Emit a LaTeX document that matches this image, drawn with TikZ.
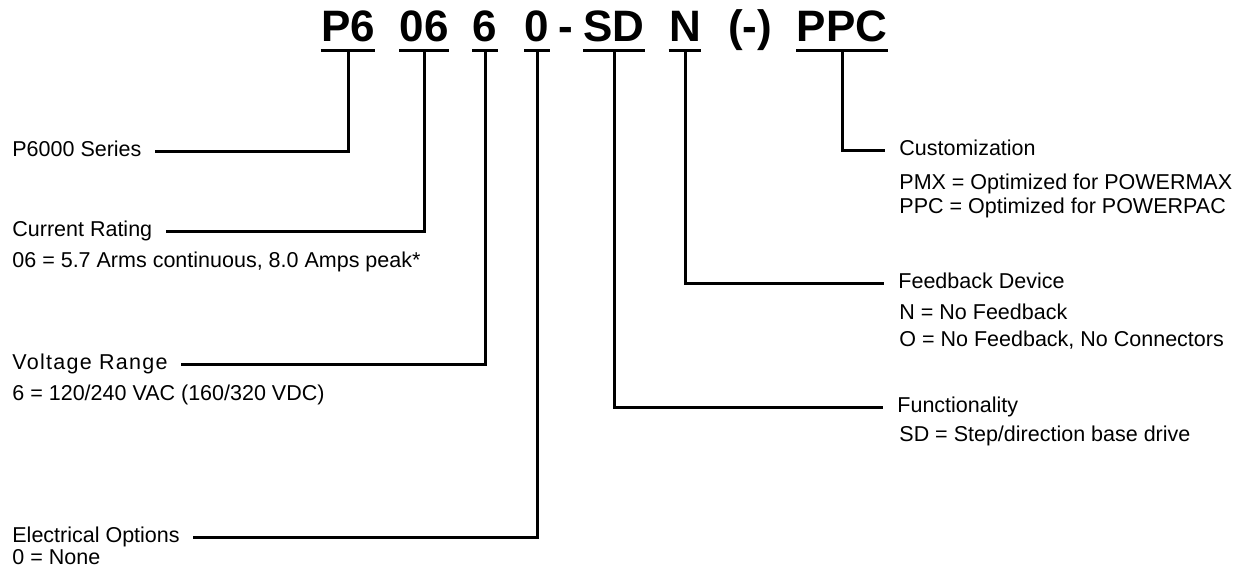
\documentclass[tikz,border=0pt]{standalone}
\usepackage{fontspec}
\setmainfont{Liberation Sans}
\newfontfamily\spacedfont[LetterSpace=6]{Liberation Sans}
\usetikzlibrary{positioning}
\tikzset{%
  link/.style={line width=1.5pt},
  code/.style={font=\fontsize{22}{22}\selectfont\bfseries, inner xsep=0pt, inner ysep=4pt, text depth=0pt, anchor=base},
  field/.style={font=\fontsize{10.75}{13}\selectfont, inner xsep=6.5pt, inner ysep=0pt, anchor=mid west},
  rfield/.style={field, inner xsep=7pt},
  value/.style={font=\fontsize{10.75}{13}\selectfont, inner sep=0pt, anchor=base west}
}
\begin{document}
\begin{tikzpicture}[x=0.5pt, y=-0.5pt]
 \useasboundingbox (0,0) rectangle (1251,567);

 % part number
 \node[code] (p6) at (348,42) {P6};
 \node[code] (cur) at (424,42) {06};
 \node[code] (volt) at (485,42) {6};
 \node[code] (elec) at (537,42) {0};
 \node[code] (dash) at (566,42) {-};
 \node[code] (func) at (614,42) {SD};
 \node[code] (fb) at (685,42) {N};
 \node[code] (opt) at (750,42) {(-)};
 \node[code] (cust) at (842,42) {PPC};

 \foreach \n in {p6,cur,volt,elec,func,fb,cust}
   \draw[link] (\n.south west) -- (\n.south east);

 % left fields
 \node[field] (series) at (-1,151) {P6000 Series};
 \node[field] (rating) at (-1,231) {Current Rating};
 \node[value] (ratingv) at (12,267) {06 = 5.7 Arms continuous, 8.0 Amps peak*};
 \node[field, font=\fontsize{10.75}{13}\spacedfont] (range) at (-1,364) {Voltage Range};
 \node[value] (rangev) at (12,400) {6 = 120/240 VAC (160/320 VDC)};
 \node[field] (option) at (-1,537) {Electrical Options};
 \node[value] (optionv) at (12,564) {0 = None};

 % right fields
 \node[rfield] (custom) at (885,150) {Customization};
 \node[value] (customv1) at (899,189) {PMX = Optimized for POWERMAX};
 \node[value] (customv2) at (899,213) {PPC = Optimized for POWERPAC};
 \node[rfield] (device) at (884,283) {Feedback Device};
 \node[value] (devicev1) at (899,319) {N = No Feedback};
 \node[value] (devicev2) at (899,346) {O = No Feedback, No Connectors};
 \node[rfield] (funct) at (883,407) {Functionality};
 \node[value] (functv) at (899,441) {SD = Step/direction base drive};

 \draw[link] (p6.south) |- (series.mid east);
 \draw[link] (cur.south) |- (rating.mid east);
 \draw[link] (volt.south) |- (range.mid east);
 \draw[link] (elec.south) |- (option.mid east);
 \draw[link] (cust.south) |- (custom.mid west);
 \draw[link] (fb.south) |- (device.mid west);
 \draw[link] (func.south) |- (funct.mid west);

\end{tikzpicture}
\end{document}
